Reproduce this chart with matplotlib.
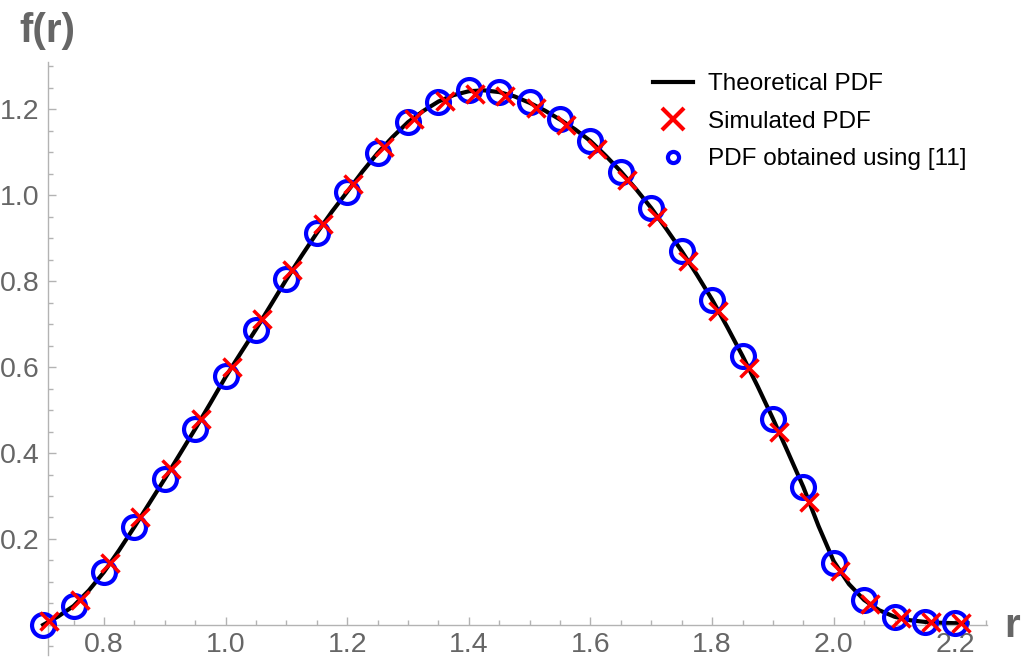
import matplotlib
matplotlib.use("Agg")
import matplotlib.pyplot as plt
from matplotlib.lines import Line2D
from matplotlib.ticker import MultipleLocator

plt.rcParams['font.family'] = ['Liberation Sans', 'DejaVu Sans']

# Theoretical PDF
theory_r = [0.700, 0.725, 0.750, 0.775, 0.800, 0.825, 0.850, 0.875, 0.900, 0.925,
            0.950, 0.975, 1.000, 1.025, 1.050, 1.075, 1.100, 1.125, 1.150, 1.175,
            1.200, 1.225, 1.250, 1.275, 1.300, 1.325, 1.350, 1.375, 1.400, 1.425,
            1.450, 1.475, 1.500, 1.525, 1.550, 1.575, 1.600, 1.625, 1.650, 1.675,
            1.700, 1.725, 1.750, 1.775, 1.800, 1.825, 1.850, 1.875, 1.900, 1.925,
            1.950, 1.975, 2.000, 2.025, 2.050, 2.075, 2.100, 2.125, 2.150, 2.175,
            2.200, 2.220]
theory_f = [0.000, 0.020, 0.044, 0.080, 0.123, 0.174, 0.228, 0.284, 0.340, 0.398,
            0.456, 0.516, 0.577, 0.633, 0.688, 0.746, 0.804, 0.859, 0.912, 0.962,
            1.008, 1.055, 1.098, 1.136, 1.170, 1.196, 1.218, 1.233, 1.242, 1.244,
            1.240, 1.230, 1.215, 1.197, 1.176, 1.153, 1.126, 1.092, 1.055, 1.014,
            0.970, 0.921, 0.870, 0.815, 0.757, 0.693, 0.626, 0.555, 0.480, 0.401,
            0.321, 0.230, 0.148, 0.095, 0.058, 0.034, 0.019, 0.011, 0.007, 0.005,
            0.004, 0.004]

# Simulated PDF (red X markers)
sim_r = [0.71, 0.76, 0.81, 0.86, 0.91, 0.96, 1.01, 1.06, 1.11, 1.16, 1.21, 1.26,
         1.31, 1.36, 1.41, 1.46, 1.51, 1.56, 1.61, 1.66, 1.71, 1.76, 1.81, 1.86,
         1.91, 1.96, 2.01, 2.06, 2.11, 2.16, 2.21]
sim_f = [0.008, 0.058, 0.143, 0.250, 0.363, 0.480, 0.600, 0.711, 0.826, 0.932,
         1.027, 1.113, 1.178, 1.220, 1.236, 1.230, 1.203, 1.163, 1.108, 1.035,
         0.950, 0.848, 0.730, 0.598, 0.448, 0.285, 0.125, 0.048, 0.015, 0.006, 0.004]

# PDF obtained using [11] (blue circles)
ref_r = [0.70, 0.75, 0.80, 0.85, 0.90, 0.95, 1.00, 1.05, 1.10, 1.15, 1.20, 1.25,
         1.30, 1.35, 1.40, 1.45, 1.50, 1.55, 1.60, 1.65, 1.70, 1.75, 1.80, 1.85,
         1.90, 1.95, 2.00, 2.05, 2.10, 2.15, 2.20]
ref_f = [0.000, 0.044, 0.123, 0.228, 0.340, 0.456, 0.579, 0.686, 0.805, 0.912,
         1.007, 1.098, 1.170, 1.216, 1.244, 1.240, 1.216, 1.177, 1.126, 1.053,
         0.970, 0.870, 0.756, 0.626, 0.479, 0.321, 0.144, 0.058, 0.019, 0.007, 0.005]

x_ticks = [0.8, 1.0, 1.2, 1.4, 1.6, 1.8, 2.0, 2.2]
y_ticks = [0.2, 0.4, 0.6, 0.8, 1.0, 1.2]

W, H = 1025, 669
fig = plt.figure(figsize=(W / 100, H / 100), dpi=100)
ax = fig.add_axes([48 / W, (H - 655) / H, (987 - 48) / W, (655 - 62) / H])

ax.set_xlim(0.708, 2.252)
ax.set_ylim(-0.07, 1.31)

ax.plot(theory_r, theory_f, color='black', lw=3, zorder=2, clip_on=False)
ax.plot(ref_r, ref_f, ls='none', marker='o', ms=16.5, mfc='none', mec='#0000ff',
        mew=3, zorder=3, clip_on=False)
ax.plot(sim_r, sim_f, ls='none', marker='x', ms=13, mec='#ff0000', mew=2.5,
        zorder=4, clip_on=False)

axis_gray = '#b3b3b3'
for s in ['top', 'right']:
    ax.spines[s].set_visible(False)
ax.spines['bottom'].set_position(('data', 0))
ax.spines['left'].set_color(axis_gray)
ax.spines['bottom'].set_color(axis_gray)
ax.spines['left'].set_linewidth(1.0)
ax.spines['bottom'].set_linewidth(1.0)

ax.set_xticks(x_ticks)
ax.set_xticklabels([f"{v:.1f}" for v in x_ticks])
ax.set_yticks(y_ticks)
ax.set_yticklabels([f"{v:.1f}" for v in y_ticks])
ax.xaxis.set_minor_locator(MultipleLocator(0.05))
ax.yaxis.set_minor_locator(MultipleLocator(0.05))
ax.tick_params(which='major', direction='in', length=6, width=1, color=axis_gray,
               labelcolor='#666666', labelsize=20.5)
ax.tick_params(which='minor', direction='in', length=3.5, width=1, color=axis_gray)
ax.tick_params(axis='x', pad=5)
ax.tick_params(axis='y', pad=6)

fig.text(47 / W, 1 - 31 / H, 'f(r)', ha='center', va='center', fontsize=29,
         fontweight='bold', color='#666666')
fig.text(1012 / W, 1 - 626 / H, 'r', ha='center', va='center', fontsize=29,
         fontweight='bold', color='#666666')

handles = [
    Line2D([], [], color='black', lw=3),
    Line2D([], [], ls='none', marker='x', ms=16, mec='#ff0000', mew=3),
    Line2D([], [], ls='none', marker='o', ms=8, mfc='none', mec='#0000ff', mew=3),
]
labels = ['Theoretical PDF', 'Simulated PDF', 'PDF obtained using [11]']
fig.legend(handles, labels, loc='upper left', bbox_to_anchor=(653 / W, 1 - 73 / H),
           frameon=False, fontsize=17.5, handlelength=1.65, handletextpad=0.6,
           labelspacing=0.64, borderpad=0, borderaxespad=0)

fig.savefig('out.png', dpi=100)
